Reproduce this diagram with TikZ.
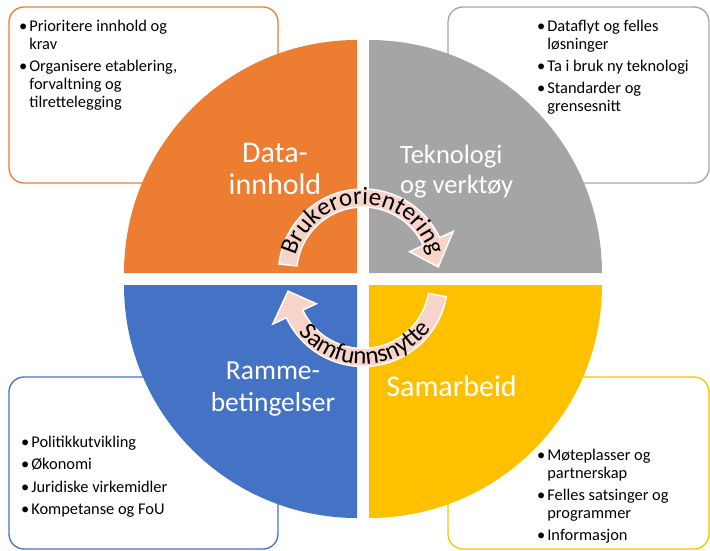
\documentclass[tikz,border=0pt]{standalone}
\usepackage{fontspec}
\setmainfont{Carlito}
\usetikzlibrary{decorations.text}
\definecolor{dataorange}{HTML}{ED7D31}
\definecolor{tekgray}{HTML}{A5A5A5}
\definecolor{rammeblue}{HTML}{4472C4}
\definecolor{samyellow}{HTML}{FFC000}
\definecolor{arrowpeach}{HTML}{F8D3C8}
\newcommand{\bodyfont}{\fontsize{16.4}{18}\selectfont}
\newcommand{\quadfont}{\fontsize{30}{32}\selectfont}
\newcommand{\smallquadfont}{\fontsize{26.5}{30}\selectfont}
\newcommand{\arcfont}{\fontsize{25}{26}\selectfont}

\begin{document}
\begin{tikzpicture}[x=1pt, y=1pt,
    box/.style={rounded corners=15pt, line width=1.3pt, fill=white},
    quad/.style={text=white, font=\quadfont, align=center, inner sep=0pt},
    list/.style={anchor=base west, inner sep=0pt, font=\bodyfont},
    band/.style={fill=arrowpeach, draw=white, line width=1.5pt}]
\useasboundingbox (0,0) rectangle (710,550);

% Text boxes behind the circle
\draw[box, draw=dataorange] (9,543) rectangle (278,367);
\draw[box, draw=tekgray] (448,543) rectangle (709,367);
\draw[box, draw=rammeblue] (9,173) rectangle (278,1);
\draw[box, draw=samyellow] (448,173) rectangle (709,1);

% Bullet lists
\node[list] (datalist) at (19,518) {\begin{tabular}[t]{@{}l@{\hspace{2pt}}l@{}}
  \textbullet & Prioritere innhold og\\ & krav\\[4pt]
  \textbullet & Organisere etablering,\\ & forvaltning og\\ & tilrettelegging
\end{tabular}};
\node[list] (teklist) at (537,518) {\begin{tabular}[t]{@{}l@{\hspace{2pt}}l@{}}
  \textbullet & Dataflyt og felles\\ & løsninger\\[4pt]
  \textbullet & Ta i bruk ny teknologi\\[4pt]
  \textbullet & Standarder og\\ & grensesnitt
\end{tabular}};
\node[list] (rammelist) at (21,103) {\begin{tabular}[t]{@{}l@{\hspace{2pt}}l@{}}
  \textbullet & Politikkutvikling\\[4.5pt]
  \textbullet & Økonomi\\[4.5pt]
  \textbullet & Juridiske virkemidler\\[4.5pt]
  \textbullet & Kompetanse og FoU
\end{tabular}};
\node[list] (samlist) at (537,90) {\begin{tabular}[t]{@{}l@{\hspace{2pt}}l@{}}
  \textbullet & Møteplasser og\\ & partnerskap\\[4pt]
  \textbullet & Felles satsinger og\\ & programmer\\[4pt]
  \textbullet & Informasjon
\end{tabular}};

% Quarter circles
\foreach \col/\cx/\cy/\ang in {dataorange/357/277/90, tekgray/369/277/0,
                               rammeblue/357/265/180, samyellow/369/265/270} {
    \fill[\col] (\cx,\cy) -- ++(\ang:233) arc[start angle=\ang, delta angle=90, radius=233] -- cycle;
}

% Quadrant labels
\node[quad] (datalbl) at (275,381) {Data-\\innhold};
\node[quad, font=\smallquadfont, align=left, anchor=west] (teklbl) at (400,378) {Teknologi\\og verktøy};
\node[quad, font=\fontsize{27.5}{32}\selectfont] (rammelbl) at (273,161) {Ramme-\\betingelser};
\node[quad, anchor=base] (samlbl) at (451.5,154) {Samarbeid};

% Curved arrows
\coordinate (brukc) at (363,276.5);
\coordinate (samc) at (363,268);
\begin{scope}[shift={(brukc)}]
    \draw[band] (173.5:84.5) arc[start angle=173.5, end angle=25, radius=84.5]
        -- (25:99.5) -- (5:75.5) -- (25:51.5) -- (25:66.5)
        arc[start angle=25, end angle=173.5, radius=66.5] -- cycle;
    \path[decorate, decoration={text along path, text align=center,
        text={|\arcfont|Brukerorientering}}]
        (172:69) arc[start angle=172, end angle=8, radius=69];
\end{scope}
\begin{scope}[shift={(samc)}]
    \draw[band] (-10:84.5) arc[start angle=-10, end angle=-155, radius=84.5]
        -- (-155:99.5) -- (-173:75.5) -- (-155:51.5) -- (-155:66.5)
        arc[start angle=-155, end angle=-10, radius=66.5] -- cycle;
    \path[decorate, decoration={text along path, text align=center,
        text={|\arcfont|Samfunnsnytte}}]
        (207:82) arc[start angle=207, end angle=337, radius=82];
\end{scope}
\end{tikzpicture}
\end{document}
